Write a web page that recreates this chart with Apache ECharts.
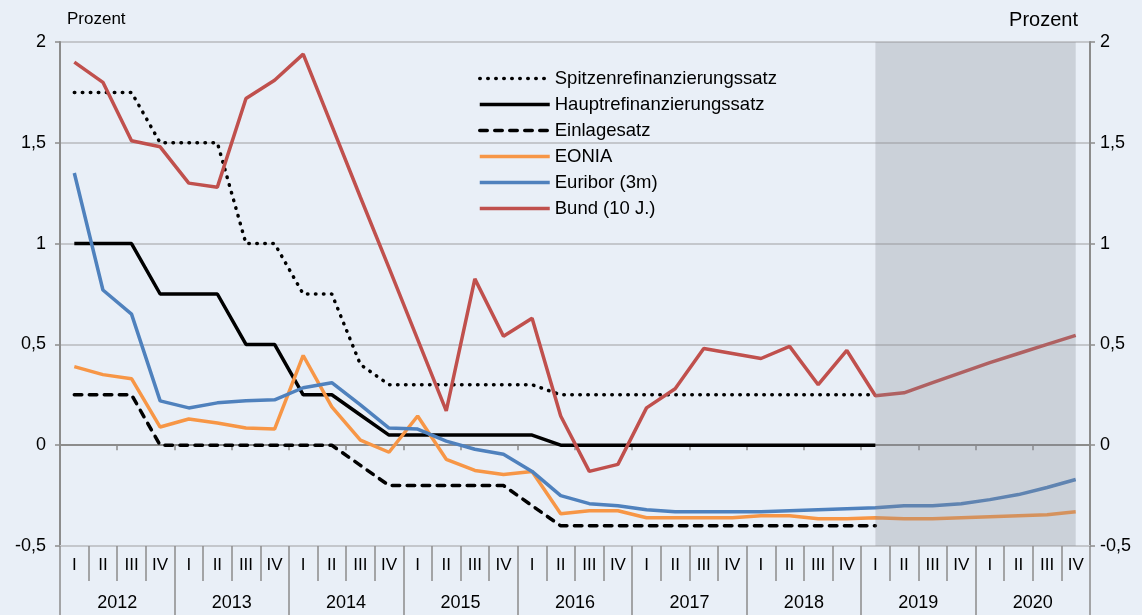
<!DOCTYPE html>
<html>
<head>
<meta charset="utf-8">
<script src="https://cdn.jsdelivr.net/npm/echarts@6/dist/echarts.min.js"></script>
<style>
  html, body { margin: 0; padding: 0; background: #e9eff7; }
  #chart { width: 1142px; height: 615px; }
</style>
</head>
<body>
<div id="chart"></div>
<script>
// Quartale 2012 bis 2020
var quarterNames = ['I', 'II', 'III', 'IV'];
var years = ['2012', '2013', '2014', '2015', '2016', '2017', '2018', '2019', '2020'];

// Leitzinsen (bis 2019 I)
var spitzenrefi = [1.75, 1.75, 1.75, 1.5, 1.5, 1.5, 1.0, 1.0, 0.75, 0.75, 0.40, 0.30, 0.30, 0.30, 0.30, 0.30, 0.30,
    0.25, 0.25, 0.25, 0.25, 0.25, 0.25, 0.25, 0.25, 0.25, 0.25, 0.25, 0.25];
var hauptrefi = [1.0, 1.0, 1.0, 0.75, 0.75, 0.75, 0.5, 0.5, 0.25, 0.25, 0.15, 0.05, 0.05, 0.05, 0.05, 0.05, 0.05,
    0, 0, 0, 0, 0, 0, 0, 0, 0, 0, 0, 0];
var einlage = [0.25, 0.25, 0.25, 0, 0, 0, 0, 0, 0, 0, -0.10, -0.2, -0.2, -0.2, -0.2, -0.2, -0.3,
    -0.4, -0.4, -0.4, -0.4, -0.4, -0.4, -0.4, -0.4, -0.4, -0.4, -0.4, -0.4];

// Marktzinsen (inkl. Prognose 2019/2020)
var eonia = [0.39, 0.35, 0.33, 0.09, 0.13, 0.11, 0.085, 0.08, 0.445, 0.19, 0.025, -0.035, 0.145, -0.07, -0.125, -0.145,
    -0.13, -0.34, -0.325, -0.325, -0.36, -0.36, -0.36, -0.36, -0.35, -0.35, -0.365, -0.365, -0.36, -0.365, -0.365,
    -0.36, -0.355, -0.35, -0.345, -0.33];
var euribor = [1.35, 0.77, 0.65, 0.22, 0.185, 0.21, 0.22, 0.225, 0.285, 0.31, 0.20, 0.085, 0.08, 0.02, -0.02, -0.045,
    -0.13, -0.25, -0.29, -0.30, -0.32, -0.33, -0.33, -0.33, -0.33, -0.325, -0.32, -0.315, -0.31, -0.30, -0.30,
    -0.29, -0.27, -0.245, -0.21, -0.17];
var bund = [1.90, 1.80, 1.51, 1.48, 1.30, 1.28, 1.72, 1.81, 1.94, 1.585, 1.23, 0.88, 0.525, 0.17, 0.825, 0.54,
    0.63, 0.145, -0.13, -0.095, 0.185, 0.28, 0.48, 0.455, 0.43, 0.49, 0.30, 0.47, 0.245, 0.26, 0.31, 0.36,
    0.41, 0.455, 0.50, 0.545];

var keys = [];
years.forEach(function (y) {
    quarterNames.forEach(function (q) { keys.push(y + '-' + q); });
});
var forecastStart = keys.indexOf('2019-I');

var font = 'Liberation Sans, Arial, sans-serif';
var axisGray = '#8c8c8c';
var gridGray = '#c4c7cc';

function comma(v) { return String(v).replace('.', ','); }

var chart = echarts.init(document.getElementById('chart'), null, { renderer: 'canvas' });

chart.setOption({
    backgroundColor: '#e9eff7',
    animation: false,
    textStyle: { fontFamily: font },
    title: [
        { text: 'Prozent', left: 67, top: 11, padding: 0, textStyle: { fontSize: 17, fontWeight: 'normal', color: '#000', fontFamily: font } },
        { text: 'Prozent', right: 64, top: 10, padding: 0, textStyle: { fontSize: 20, fontWeight: 'normal', color: '#000', fontFamily: font } }
    ],
    legend: {
        orient: 'vertical',
        left: 478,
        top: 69,
        padding: 0,
        itemWidth: 70,
        itemHeight: 18,
        itemGap: 7,
        lineStyle: { width: 3.5 },
        itemStyle: { color: 'rgba(0,0,0,0)', borderWidth: 0 },
        textStyle: { fontSize: 18.5, color: '#000', fontFamily: font, padding: 0 },
        data: ['Spitzenrefinanzierungssatz', 'Hauptrefinanzierungssatz', 'Einlagesatz', 'EONIA', 'Euribor (3m)', 'Bund (10 J.)']
    },
    grid: { left: 60, right: 52, top: 42, bottom: 69 },
    xAxis: [
        {
            type: 'category',
            data: keys,
            axisLine: { onZero: true, lineStyle: { color: axisGray, width: 2 } },
            axisTick: { show: true, length: 5, lineStyle: { color: axisGray, width: 1.5 } },
            axisLabel: { show: false },
            splitLine: { show: false }
        },
        {
            type: 'category',
            data: keys,
            position: 'bottom',
            axisLine: { show: true, onZero: false, lineStyle: { color: gridGray, width: 2 } },
            axisTick: { show: true, length: 35, lineStyle: { color: axisGray, width: 1.5 } },
            axisLabel: {
                margin: 11, fontSize: 17, color: '#000', fontFamily: font, interval: 0,
                formatter: function (v) { return v.split('-')[1]; }
            }
        },
        {
            type: 'category',
            data: years,
            position: 'bottom',
            axisLine: { show: false, onZero: false },
            axisTick: { show: true, length: 70, lineStyle: { color: axisGray, width: 1.5 } },
            axisLabel: { margin: 48, fontSize: 18, color: '#000', fontFamily: font, interval: 0 }
        }
    ],
    yAxis: [
        {
            type: 'value', min: -0.5, max: 2, interval: 0.5, position: 'left',
            axisLine: { show: true, lineStyle: { color: axisGray, width: 2 } },
            axisTick: { show: true, length: 5, lineStyle: { color: axisGray, width: 1.5 } },
            axisLabel: { margin: 14, fontSize: 18, color: '#000', fontFamily: font, formatter: comma },
            splitLine: { show: true, lineStyle: { color: gridGray, width: 2 } }
        },
        {
            type: 'value', min: -0.5, max: 2, interval: 0.5, position: 'right',
            axisLine: { show: true, lineStyle: { color: axisGray, width: 2 } },
            axisTick: { show: true, length: 5, lineStyle: { color: axisGray, width: 1.5 } },
            axisLabel: { margin: 10, fontSize: 18, color: '#000', fontFamily: font, formatter: comma },
            splitLine: { show: false }
        }
    ],
    series: [
        {
            name: 'Spitzenrefinanzierungssatz', type: 'line', symbol: 'none', data: spitzenrefi,
            lineStyle: { color: '#000', width: 3.5, type: [0.5, 7.5], cap: 'round' }, itemStyle: { color: '#000' }
        },
        {
            name: 'Hauptrefinanzierungssatz', type: 'line', symbol: 'none', data: hauptrefi,
            lineStyle: { color: '#000', width: 3.5 }, itemStyle: { color: '#000' }
        },
        {
            name: 'Einlagesatz', type: 'line', symbol: 'none', data: einlage,
            lineStyle: { color: '#000', width: 3.5, type: [7.5, 7.5], cap: 'round' }, itemStyle: { color: '#000' }
        },
        {
            name: 'EONIA', type: 'line', symbol: 'none', data: eonia,
            lineStyle: { color: '#f79646', width: 3.5 }, itemStyle: { color: '#f79646' }
        },
        {
            name: 'Euribor (3m)', type: 'line', symbol: 'none', data: euribor,
            lineStyle: { color: '#4f81bd', width: 3.5 }, itemStyle: { color: '#4f81bd' }
        },
        {
            name: 'Bund (10 J.)', type: 'line', symbol: 'none', data: bund,
            lineStyle: { color: '#c0504d', width: 3.5 }, itemStyle: { color: '#c0504d' }
        },
        {
            // Prognosezeitraum
            name: 'Prognose', type: 'line', data: [], z: 10, clip: false,
            markArea: {
                silent: true,
                z: 10,
                itemStyle: { color: 'rgba(135,140,148,0.3)' },
                data: [[
                    { xAxis: keys[forecastStart], yAxis: 2 },
                    { xAxis: keys[keys.length - 1], yAxis: -0.515 }
                ]]
            }
        }
    ]
});
</script>
</body>
</html>
